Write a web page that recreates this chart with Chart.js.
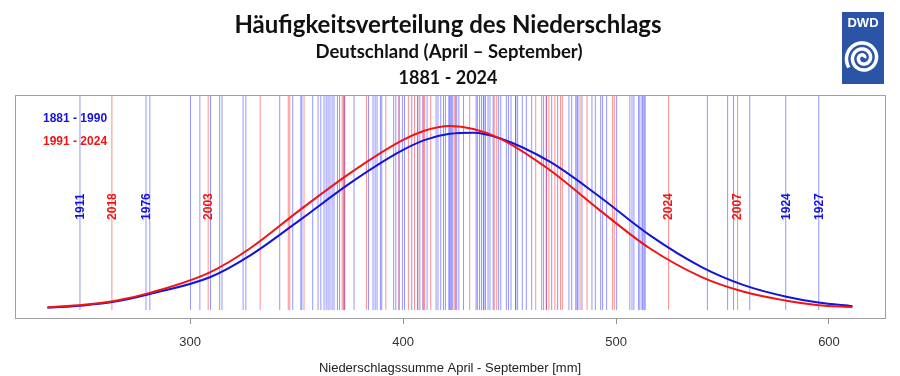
<!DOCTYPE html>
<html>
<head>
<meta charset="utf-8">
<script src="https://cdn.jsdelivr.net/npm/chart.js@4.4.1/dist/chart.umd.min.js"></script>
<style>
  html, body { margin: 0; padding: 0; background: #fff; }
</style>
</head>
<body>
<canvas id="chart" width="900" height="376"></canvas>
<script>
// Niederschlagssumme April-September [mm], ein Wert pro Jahr
const years1881to1990 = [
  248.3, 279.3, 281.1, 300.2, 304.6, 309.6, 313.9, 315.0, 324.9, 326.2, 342.1,
  348.2, 352.0, 352.5, 357.6, 360.1, 361.4, 362.9, 363.9, 364.8, 365.7, 366.7,
  367.6, 369.2, 370.2, 372.0, 372.6, 377.0, 383.8, 385.9, 386.9, 387.8, 389.4,
  390.0, 395.6, 396.6, 398.1, 399.7, 400.7, 404.1, 406.9, 407.9, 409.4, 411.3,
  415.5, 416.4, 417.7, 419.0, 419.9, 421.5, 421.9, 422.4, 422.9, 423.4, 425.2,
  426.2, 428.4, 434.3, 434.9, 435.9, 436.8, 437.7, 438.0, 438.7, 439.9, 440.8,
  442.3, 444.9, 445.9, 448.5, 449.5, 450.7, 452.8, 453.0, 453.8, 456.0, 457.9,
  460.4, 465.1, 466.0, 467.3, 469.8, 472.6, 477.9, 479.2, 481.1, 481.7, 482.1,
  484.0, 488.7, 490.3, 492.8, 493.7, 495.6, 500.3, 506.5, 507.5, 508.4, 510.6,
  511.2, 512.2, 512.6, 513.2, 513.7, 542.9, 552.4, 555.2, 562.8, 579.7, 595.2
];
const years1991to2024 = [
  263.3, 308.5, 332.9, 346.1, 346.8, 353.5, 371.4, 372.6, 382.8, 391.9, 398.1,
  402.5, 405.4, 406.9, 409.4, 410.1, 413.0, 424.3, 424.7, 431.3, 442.8, 444.0,
  462.3, 467.3, 468.5, 471.3, 473.9, 474.8, 483.1, 486.4, 498.3, 499.2, 524.7,
  557.1
];

// beschriftete Extremjahre
const labelYears  = [1911, 2018, 1976, 2003, 2024, 2007, 1924, 1927];
const labelValues = [248.3, 263.3, 279.3, 308.5, 524.7, 557.1, 579.7, 595.2];

// Dichtekurven (relative Einheiten)
const curveMm    = [233, 250, 265, 281.1, 309.3, 328.1, 351.5, 375, 398.5, 410, 421.9,
                    433, 445.4, 468.9, 492.3, 515.8, 540, 560, 580, 595, 611];
const curveEarly = [4.7, 5.7, 7.4, 10.8, 18.3, 28.0, 43.9, 60.4, 74.6, 79.8, 82.6,
                    83.1, 80.6, 70.1, 54.4, 37.2, 23.0, 14.8, 9.6, 7.0, 5.4];
const curveLate  = [4.8, 6.0, 7.8, 11.3, 20.5, 31.2, 48.4, 64.9, 79.1, 84.0, 86.1,
                    84.8, 80.6, 66.4, 48.4, 31.3, 18.5, 11.8, 7.8, 5.8, 4.9];

const xTicks = [300, 400, 500, 600];

const BLUE = 'rgb(20, 20, 215)';
const RED = 'rgb(240, 20, 20)';

// jede Jahreslinie als eigenes Segment, getrennt durch null
function yearLines(values) {
  const pts = [];
  values.forEach(v => {
    pts.push({x: v, y: 3.6}, {x: v, y: 100}, {x: v, y: null});
  });
  return pts;
}

function curve(ys) {
  return curveMm.map((x, i) => ({x: x, y: ys[i]}));
}

const overlay = {
  id: 'overlay',
  beforeDraw(chart) {
    const ctx = chart.ctx;
    ctx.save();
    ctx.fillStyle = '#fff';
    ctx.fillRect(0, 0, chart.width, chart.height);

    ctx.fillStyle = '#111';
    ctx.textAlign = 'center';
    ctx.textBaseline = 'middle';
    ctx.font = 'bold 24px Lato';
    ctx.fillText('Häufigkeitsverteilung des Niederschlags', 448, 25);
    ctx.font = 'bold 18.5px Lato';
    ctx.fillText('Deutschland (April – September)', 449, 52);
    ctx.font = 'bold 18px Lato';
    ctx.fillText('1881 - 2024', 448, 78);

    // DWD Logo
    ctx.fillStyle = 'rgb(44, 84, 166)';
    ctx.fillRect(842, 12, 42, 72);
    ctx.fillStyle = '#fff';
    ctx.font = 'bold 13px "Liberation Sans"';
    ctx.fillText('DWD', 863, 23);
    ctx.strokeStyle = '#fff';
    ctx.lineWidth = 3.5;
    ctx.beginPath();
    for (let t = 0; t <= 5.2 * Math.PI; t += 0.1) {
      const r = 1.5 + 3.0 * t / Math.PI;
      const px = 863 + r * Math.cos(-t);
      const py = 58 + r * Math.sin(-t);
      if (t === 0) ctx.moveTo(px, py); else ctx.lineTo(px, py);
    }
    ctx.stroke();
    ctx.restore();
  },
  afterDatasetsDraw(chart) {
    const ctx = chart.ctx;
    const xs = chart.scales.x;
    const ys = chart.scales.y;
    ctx.save();
    ctx.font = 'bold 12px "Liberation Sans"';
    ctx.textAlign = 'center';
    ctx.textBaseline = 'middle';
    labelYears.forEach((yr, i) => {
      const px = xs.getPixelForValue(labelValues[i]);
      const py = ys.getPixelForValue(50);
      ctx.save();
      ctx.translate(px + 0.5, py);
      ctx.rotate(-Math.PI / 2);
      ctx.fillStyle = yr >= 1991 ? RED : BLUE;
      ctx.fillText(String(yr), 0, 0);
      ctx.restore();
    });

    ctx.textAlign = 'left';
    ctx.fillStyle = BLUE;
    ctx.fillText('1881 - 1990', 43, 119);
    ctx.fillStyle = RED;
    ctx.fillText('1991 - 2024', 43, 142);

    const a = chart.chartArea;
    ctx.strokeStyle = '#a0a0a0';
    ctx.lineWidth = 1;
    ctx.strokeRect(Math.round(a.left) + 0.5, Math.round(a.top) + 0.5,
      Math.round(a.right - a.left), Math.round(a.bottom - a.top));
    ctx.restore();
  }
};

new Chart(document.getElementById('chart'), {
  type: 'line',
  data: {
    datasets: [
      {
        data: curve(curveLate),
        borderColor: RED,
        borderWidth: 2,
        cubicInterpolationMode: 'monotone',
        pointRadius: 0
      },
      {
        data: curve(curveEarly),
        borderColor: BLUE,
        borderWidth: 2,
        cubicInterpolationMode: 'monotone',
        pointRadius: 0
      },
      {
        data: yearLines(years1991to2024),
        borderColor: 'rgba(255, 0, 0, 0.45)',
        borderWidth: 1,
        pointRadius: 0,
        spanGaps: false,
        tension: 0,
        segment: {borderColor: () => undefined}
      },
      {
        data: yearLines(years1881to1990),
        borderColor: 'rgba(0, 0, 255, 0.42)',
        borderWidth: 1,
        pointRadius: 0,
        spanGaps: false,
        tension: 0,
        segment: {borderColor: () => undefined}
      }
    ]
  },
  options: {
    responsive: false,
    animation: false,
    layout: {padding: {top: 95, left: 15, right: 15, bottom: 0}},
    plugins: {
      legend: {display: false},
      tooltip: {enabled: false},
      title: {display: false}
    },
    scales: {
      x: {
        type: 'linear',
        min: 217.8,
        max: 626.3,
        afterBuildTicks: scale => {
          scale.ticks = xTicks.map(v => ({value: v}));
        },
        grid: {
          drawOnChartArea: false,
          drawTicks: true,
          tickLength: 6,
          color: '#909090'
        },
        border: {display: false},
        ticks: {
          padding: 11,
          maxRotation: 0,
          color: '#333',
          font: {family: '"Liberation Sans"', size: 13}
        },
        title: {
          display: true,
          text: 'Niederschlagssumme April - September [mm]',
          color: '#222',
          padding: {top: 0, bottom: 0},
          font: {family: '"Liberation Sans"', size: 13, lineHeight: 1.1}
        }
      },
      y: {
        display: false,
        min: 0,
        max: 100
      }
    }
  },
  plugins: [overlay]
});
</script>
</body>
</html>
